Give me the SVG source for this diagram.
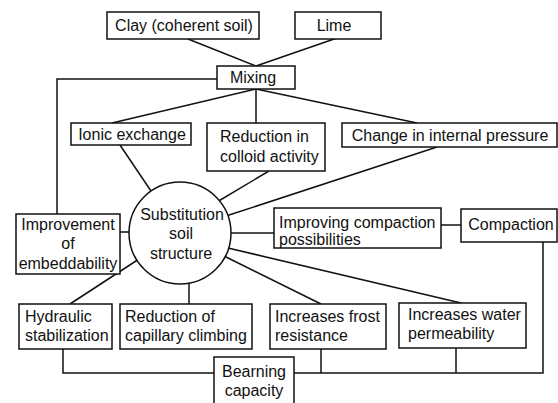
<svg xmlns="http://www.w3.org/2000/svg" width="558" height="403" viewBox="0 0 558 403">
<style>
  .box{fill:#fff;stroke:#111;stroke-width:1.5}
  .ln{fill:none;stroke:#111;stroke-width:1.5}
  text{font-family:"Liberation Sans",Arial,sans-serif;font-size:16px;fill:#111}
  .c{text-anchor:middle}
</style>
<rect width="558" height="403" fill="#fff"/>
<g id="connectors">
  <line class="ln" x1="188" y1="39" x2="256" y2="66"/>
  <line class="ln" x1="337" y1="38" x2="256" y2="66"/>
  <polyline class="ln" points="217,79 57,79 57,214"/>
  <line class="ln" x1="256" y1="89" x2="112" y2="123"/>
  <line class="ln" x1="256" y1="89" x2="256" y2="123"/>
  <line class="ln" x1="256" y1="89" x2="417" y2="123"/>
  <line class="ln" x1="120" y1="145" x2="153" y2="194"/>
  <line class="ln" x1="269" y1="171" x2="217" y2="202"/>
  <line class="ln" x1="437" y1="147" x2="226" y2="216"/>
  <line class="ln" x1="120" y1="232" x2="132" y2="232"/>
  <line class="ln" x1="139" y1="259" x2="70" y2="304"/>
  <line class="ln" x1="189" y1="280" x2="189" y2="304"/>
  <line class="ln" x1="224" y1="256" x2="321" y2="304"/>
  <line class="ln" x1="228" y1="248" x2="461" y2="303"/>
  <line class="ln" x1="228" y1="233" x2="274" y2="233"/>
  <line class="ln" x1="441" y1="225" x2="461" y2="225"/>
  <polyline class="ln" points="543,242 543,373 294,373"/>
  <polyline class="ln" points="63,349 63,373 214,373"/>
  <line class="ln" x1="321" y1="349" x2="321" y2="373"/>
  <line class="ln" x1="456" y1="348" x2="456" y2="373"/>
</g>
<g id="clay"><rect class="box" x="107" y="12" width="152" height="27"/><text class="c" x="184" y="31">Clay (coherent soil)</text></g>
<g id="lime"><rect class="box" x="295" y="12" width="86" height="27"/><text class="c" x="334" y="31">Lime</text></g>
<g id="mixing"><rect class="box" x="217" y="66" width="78" height="23"/><text class="c" x="253" y="83">Mixing</text></g>
<g id="ionic"><rect class="box" x="71" y="123" width="120" height="22"/><text class="c" x="132" y="140">Ionic exchange</text></g>
<g id="colloid"><rect class="box" x="207" y="123" width="118" height="48"/><text x="220" y="141.5">Reduction in</text><text x="220" y="161.5">colloid activity</text></g>
<g id="pressure"><rect class="box" x="342" y="123" width="215" height="24"/><text class="c" x="450" y="140.5">Change in internal pressure</text></g>
<g id="substitution"><circle class="box" cx="180" cy="233" r="51"/><text class="c" x="182" y="219.5">Substitution</text><text class="c" x="181" y="239">soil</text><text class="c" x="181" y="258.5">structure</text></g>
<g id="embeddability"><rect class="box" x="16" y="214" width="104" height="60"/><text class="c" x="68" y="229.5">Improvement</text><text class="c" x="68" y="249">of</text><text class="c" x="68" y="268.5">embeddability</text></g>
<g id="improving"><rect class="box" x="274" y="208" width="167" height="40"/><text x="279" y="228">Improving compaction</text><text x="279" y="245">possibilities</text></g>
<g id="compaction"><rect class="box" x="461" y="209" width="96" height="33"/><text class="c" x="511" y="229.5">Compaction</text></g>
<g id="hydraulic"><rect class="box" x="19" y="304" width="93" height="45"/><text x="25" y="321.5">Hydraulic</text><text x="25" y="340.5">stabilization</text></g>
<g id="capillary"><rect class="box" x="120" y="304" width="132" height="45"/><text x="125" y="321.5">Reduction of</text><text x="125" y="340.5">capillary climbing</text></g>
<g id="frost"><rect class="box" x="270" y="304" width="116" height="45"/><text x="275" y="321.5">Increases frost</text><text x="275" y="340.5">resistance</text></g>
<g id="water"><rect class="box" x="399" y="303" width="127" height="45"/><text x="408" y="319.5">Increases water</text><text x="408" y="338.5">permeability</text></g>
<g id="bearing"><rect class="box" x="214" y="357" width="80" height="55"/><text class="c" x="254" y="376.5">Bearning</text><text class="c" x="254" y="395.5">capacity</text></g>
</svg>
